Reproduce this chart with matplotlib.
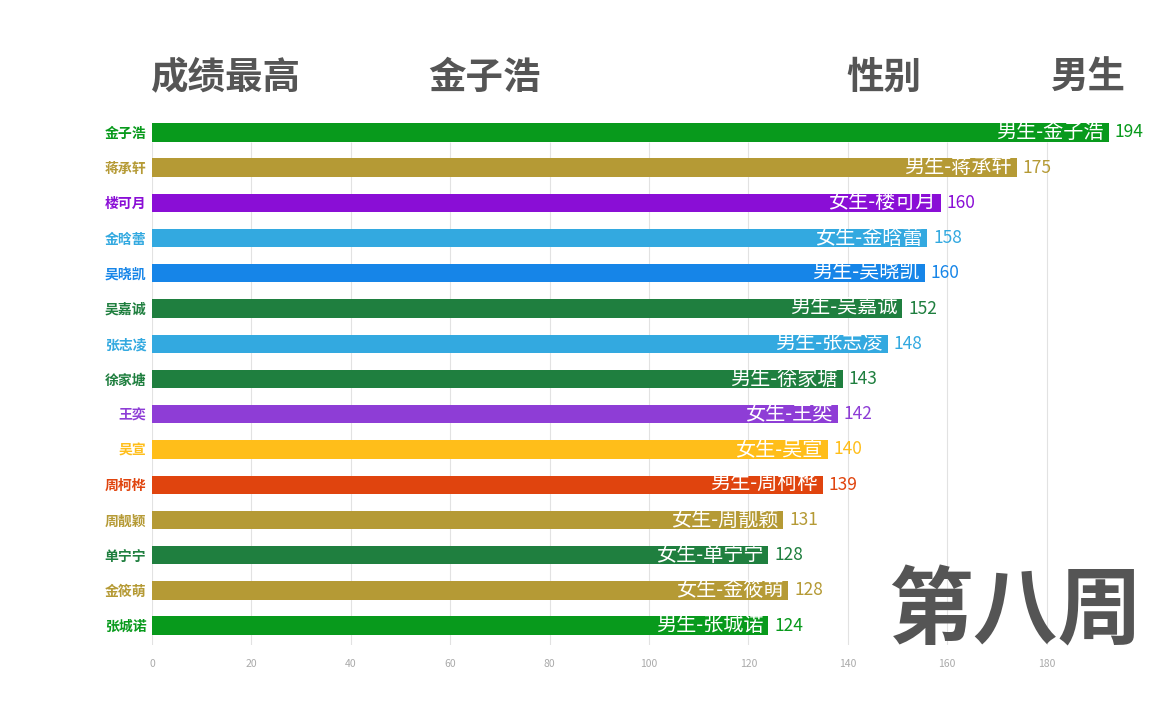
import numpy as np
import matplotlib.pyplot as plt

plt.rcParams['font.family'] = ['Noto Sans CJK SC', 'DejaVu Sans']

names = ['金子浩', '蒋承轩', '楼可月', '金晗蕾', '吴晓凯', '吴嘉诚', '张志凌', '徐家塘',
         '王奕', '吴宣', '周柯桦', '周靓颖', '单宁宁', '金筱萌', '张城诺']
genders = ['男生', '男生', '女生', '女生', '男生', '男生', '男生', '男生',
           '女生', '女生', '男生', '女生', '女生', '女生', '男生']
# labelled scores
scores = [194, 175, 160, 158, 160, 152, 148, 143, 142, 140, 139, 131, 128, 128, 124]
# bar lengths as caught mid-animation
bar_values = [192.5, 174, 158.7, 156, 155.5, 151, 148, 139, 138, 136, 135, 127, 124, 128, 124]
colors = ['#089a1c', '#b59a35', '#8a0ed6', '#33a9e0', '#1685e8', '#1f7f3f', '#33a9e0', '#1f7f3f',
          '#8e3dd6', '#ffbe1a', '#e0440e', '#b59a35', '#1f7f3f', '#b59a35', '#089a1c']
xticks = [0, 20, 40, 60, 80, 100, 120, 140, 160, 180]

fig = plt.figure(figsize=(11.5, 7.19), dpi=100)
ax = fig.add_axes([152/1150, 1 - 645/719, (1146 - 152)/1150, (645 - 113)/719])

y = np.arange(len(names))
bh = 0.52
ax.set_ylim(len(names) - 0.45, -0.55)
ax.set_xlim(0, 200)
# grid lines start just under the top bar
ax.vlines(xticks, bh / 2, len(names) - 0.45, color='#e2e2e2', linewidth=0.8, zorder=0)
ax.barh(y, bar_values, height=bh, color=colors, zorder=2)

for i in range(len(names)):
    ax.text(bar_values[i] - 1, y[i], f'{genders[i]}-{names[i]}', color='white',
            fontsize=14.5, ha='right', va='center', zorder=3)
    ax.text(bar_values[i] + 1.2, y[i], str(scores[i]), color=colors[i],
            fontsize=12.5, ha='left', va='center', zorder=3)

ax.set_yticks(y)
ax.set_yticklabels(names, fontsize=10, fontweight='bold')
for lbl, c in zip(ax.get_yticklabels(), colors):
    lbl.set_color(c)
ax.set_xticks(xticks)
ax.set_xticklabels([str(t) for t in xticks], fontsize=7.5, color='#aaaaaa')
ax.tick_params(length=0, pad=4)
ax.tick_params(axis='x', pad=10)
for s in ax.spines.values():
    s.set_visible(False)

head = dict(fontsize=27, fontweight='bold', color='#555555', va='center')
fig.text(150/1150, 1 - 77/719, '成绩最高', **head)
fig.text(428/1150, 1 - 77/719, '金子浩', **head)
fig.text(846/1150, 1 - 77/719, '性别', **head)
fig.text(1051/1150, 1 - 77/719, '男生', **head)
fig.text(1142/1150, 1 - 612/719, '第八周', fontsize=61, fontweight='bold',
         color='#555555', ha='right', va='center')

fig.savefig('out.png', dpi=100, facecolor='white')
